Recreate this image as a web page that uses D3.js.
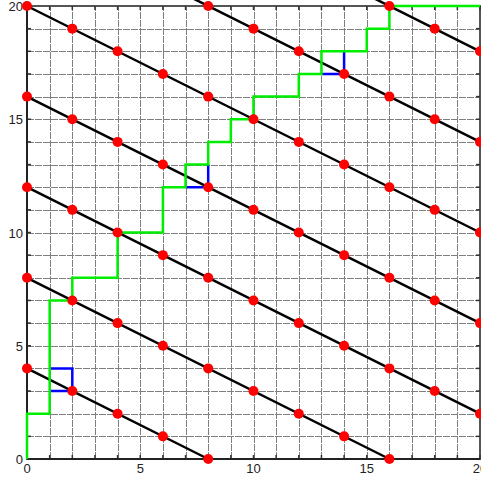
<!DOCTYPE html>
<html>
<head>
<meta charset="utf-8">
<script src="https://cdn.jsdelivr.net/npm/d3@7"></script>
<style>
  html, body { margin: 0; padding: 0; background: #fff; }
  svg { display: block; }
  text { font-family: "Liberation Sans", Arial, sans-serif; font-size: 13px; fill: #222; }
</style>
</head>
<body>
<svg id="chart" width="481" height="479"></svg>
<script>
// axis ticks
var tickValues = [0, 5, 10, 15, 20];
var gridValues = d3.range(0, 21);

// black diagonal lines (endpoints)
var diagLines = [
  [[0, 4], [8, 0]],
  [[0, 8], [16, 0]],
  [[0, 12], [20, 2]],
  [[0, 16], [20, 6]],
  [[0, 20], [20, 10]],
  [[7, 20.5], [20, 14]],
  [[15, 20.5], [20, 18]]
];

// red points on the lines
var dots = [
  [0, 4], [2, 3], [4, 2], [6, 1], [8, 0],
  [0, 8], [2, 7], [4, 6], [6, 5], [8, 4], [10, 3], [12, 2], [14, 1], [16, 0],
  [0, 12], [2, 11], [4, 10], [6, 9], [8, 8], [10, 7], [12, 6], [14, 5], [16, 4], [18, 3], [20, 2],
  [0, 16], [2, 15], [4, 14], [6, 13], [8, 12], [10, 11], [12, 10], [14, 9], [16, 8], [18, 7], [20, 6],
  [0, 20], [2, 19], [4, 18], [6, 17], [8, 16], [10, 15], [12, 14], [14, 13], [16, 12], [18, 11], [20, 10],
  [8, 20], [10, 19], [12, 18], [14, 17], [16, 16], [18, 15], [20, 14],
  [16, 20], [18, 19], [20, 18]
];

// green staircase
var greenPath = [
  [0, 0], [0, 2], [1, 2], [1, 7], [2, 7], [2, 8], [4, 8], [4, 10], [6, 10],
  [6, 12], [7, 12], [7, 13], [8, 13], [8, 14], [9, 14], [9, 15], [10, 15],
  [10, 16], [12, 16], [12, 17], [13, 17], [13, 18], [15, 18], [15, 19],
  [16, 19], [16, 20], [20, 20]
];

// blue detours
var bluePaths = [
  [[1, 3], [2, 3], [2, 4], [1, 4]],
  [[7, 12], [8, 12], [8, 13]],
  [[13, 17], [14, 17], [14, 18]]
];

var svg = d3.select('#chart');
var x = d3.scaleLinear().domain([0, 20]).range([27, 480]);
var y = d3.scaleLinear().domain([0, 20]).range([459, 6]);
var line = d3.line().x(function(d) { return x(d[0]); }).y(function(d) { return y(d[1]); });

// grid
var grid = svg.append('g').attr('stroke', '#7f7f7f').attr('stroke-width', 1)
  .attr('stroke-dasharray', '7,1');
grid.selectAll('.gx').data(gridValues).enter().append('line')
  .attr('x1', function(d) { return Math.round(x(d)) + 0.5; })
  .attr('x2', function(d) { return Math.round(x(d)) + 0.5; })
  .attr('y1', y(0)).attr('y2', y(20));
grid.selectAll('.gy').data(gridValues).enter().append('line')
  .attr('y1', function(d) { return Math.round(y(d)) + 0.5; })
  .attr('y2', function(d) { return Math.round(y(d)) + 0.5; })
  .attr('x1', x(0)).attr('x2', x(20));

// frame
svg.append('rect')
  .attr('x', x(0)).attr('y', y(20))
  .attr('width', x(20) - x(0)).attr('height', y(0) - y(20))
  .attr('fill', 'none').attr('stroke', '#555').attr('stroke-width', 2);

// inner ticks on all sides
var ticks = svg.append('g').attr('stroke', '#333').attr('stroke-width', 1.5);
gridValues.forEach(function(v) {
  ticks.append('line').attr('x1', x(v)).attr('x2', x(v)).attr('y1', y(0)).attr('y2', y(0) - 4);
  ticks.append('line').attr('x1', x(v)).attr('x2', x(v)).attr('y1', y(20)).attr('y2', y(20) + 4);
  ticks.append('line').attr('y1', y(v)).attr('y2', y(v)).attr('x1', x(0)).attr('x2', x(0) + 4);
  ticks.append('line').attr('y1', y(v)).attr('y2', y(v)).attr('x1', x(20)).attr('x2', x(20) - 4);
});

// bottom and left axis lines
svg.append('line').attr('x1', x(0)).attr('x2', x(20)).attr('y1', y(0)).attr('y2', y(0))
  .attr('stroke', '#222').attr('stroke-width', 2);
svg.append('line').attr('x1', x(0)).attr('x2', x(0)).attr('y1', y(0)).attr('y2', y(20))
  .attr('stroke', '#222').attr('stroke-width', 2);

// tick labels
svg.selectAll('.xl').data(tickValues).enter().append('text')
  .attr('x', function(d) { return x(d); }).attr('y', 473)
  .attr('text-anchor', 'middle').text(function(d) { return d; });
svg.selectAll('.yl').data(tickValues).enter().append('text')
  .attr('x', 23).attr('y', function(d) { return y(d) + 5; })
  .attr('text-anchor', 'end').text(function(d) { return d; });

// diagonal lines
svg.selectAll('.diag').data(diagLines).enter().append('path')
  .attr('d', line).attr('fill', 'none')
  .attr('stroke', '#000').attr('stroke-width', 2.5);

// blue detours
svg.selectAll('.blue').data(bluePaths).enter().append('path')
  .attr('d', line).attr('fill', 'none')
  .attr('stroke', '#0000ff').attr('stroke-width', 2.5);

// green staircase
svg.append('path').datum(greenPath)
  .attr('d', line).attr('fill', 'none')
  .attr('stroke', '#00ee00').attr('stroke-width', 2.5);

// red dots
svg.selectAll('.dot').data(dots).enter().append('circle')
  .attr('cx', function(d) { return x(d[0]); })
  .attr('cy', function(d) { return y(d[1]); })
  .attr('r', 5).attr('fill', '#ff0000');
</script>
</body>
</html>
